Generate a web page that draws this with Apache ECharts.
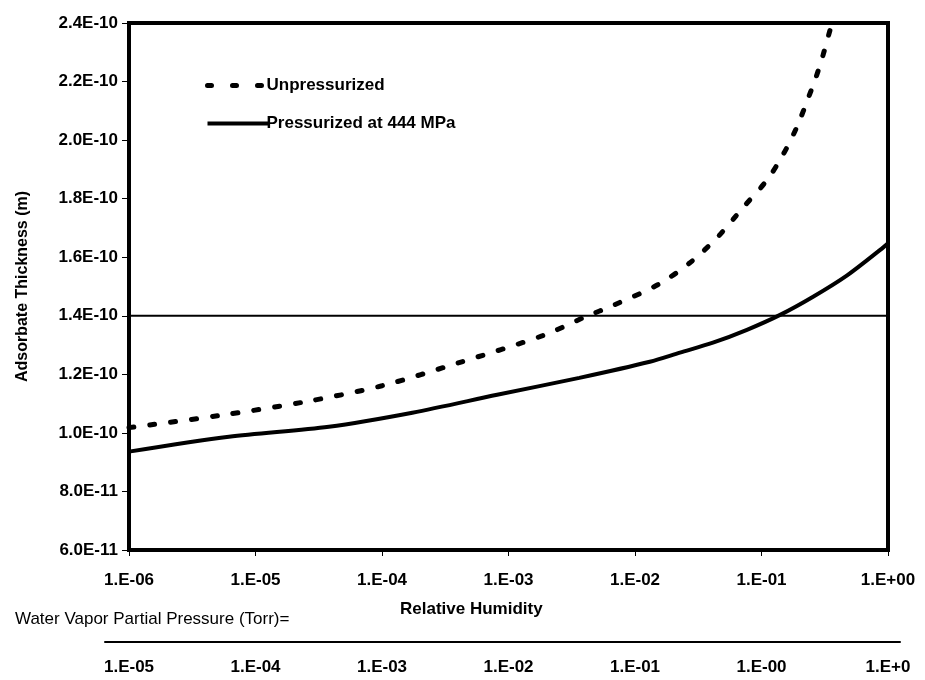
<!DOCTYPE html>
<html>
<head>
<meta charset="utf-8">
<script src="https://cdn.jsdelivr.net/npm/echarts@6/dist/echarts.min.js"></script>
<style>html,body{margin:0;padding:0;background:#fff}#c{width:925px;height:680px}</style>
</head>
<body>
<div id="c"></div>
<script>
// Relative humidity (log10 exponents) and adsorbate thickness (m)
const unpressLogRH = [-6.0, -5.29, -4.61, -4.0, -3.39, -2.73, -2.40, -2.16, -1.82, -1.566, -1.344, -1.147, -0.956, -0.83, -0.72, -0.624, -0.568, -0.513, -0.458, -0.44];
const unpressThick = [1.018e-10, 1.059e-10, 1.106e-10, 1.161e-10, 1.240e-10, 1.332e-10, 1.395e-10, 1.438e-10, 1.506e-10, 1.581e-10, 1.670e-10, 1.769e-10, 1.864e-10, 1.950e-10, 2.045e-10, 2.151e-10, 2.216e-10, 2.291e-10, 2.376e-10, 2.400e-10];
const pressLogRH = [-6.0, -5.21, -4.42, -3.76, -3.09, -2.44, -1.883, -1.645, -1.384, -1.115, -0.853, -0.592, -0.323, -0.062, 0.0];
const pressThick = [0.936e-10, 0.987e-10, 1.021e-10, 1.069e-10, 1.130e-10, 1.188e-10, 1.243e-10, 1.274e-10, 1.308e-10, 1.352e-10, 1.403e-10, 1.465e-10, 1.538e-10, 1.625e-10, 1.648e-10];
const monolayer = 1.4e-10;
const monolayerRange = [-6, 0];
const rhTickLabels = ['1.E-06', '1.E-05', '1.E-04', '1.E-03', '1.E-02', '1.E-01', '1.E+00'];
const torrTickLabels = ['1.E-05', '1.E-04', '1.E-03', '1.E-02', '1.E-01', '1.E-00', '1.E+0'];
const seriesNames = ['Unpressurized', 'Pressurized at 444 MPa'];

const chart = echarts.init(document.getElementById('c'), null, {renderer: 'canvas'});
const toPts = (xs, ys) => xs.map((e, i) => [Math.pow(10, e), ys[i]]);
const font = '"Liberation Sans", Arial, sans-serif';
const dashStyle = {color: '#000', width: 5, type: [5, 16], cap: 'round'};
const solidStyle = {color: '#000', width: 4, type: 'solid'};

chart.setOption({
  backgroundColor: '#fff',
  animation: false,
  textStyle: {fontFamily: font, color: '#000'},
  title: [
    {text: 'Relative Humidity', left: 395, top: 596, textStyle: {fontFamily: font, fontSize: 17, fontWeight: 'bold', color: '#000'}},
    {text: 'Water Vapor Partial Pressure (Torr)=', left: 10, top: 606, textStyle: {fontFamily: font, fontSize: 17, fontWeight: 'normal', color: '#000'}}
  ],
  legend: {
    left: 200, top: 72, orient: 'vertical', itemWidth: 61, itemHeight: 14, itemGap: 21,
    itemStyle: {opacity: 0},
    data: [
      {name: seriesNames[0], lineStyle: {color: '#000', width: 5, type: [4, 21], cap: 'round'}, itemStyle: {opacity: 0}},
      {name: seriesNames[1], lineStyle: solidStyle, itemStyle: {opacity: 0}}
    ],
    textStyle: {fontFamily: font, fontSize: 17, fontWeight: 'bold', color: '#000', padding: [0, 0, 0, -7]}
  },
  grid: [
    {left: 129, right: 37, top: 23, bottom: 130, show: true, borderColor: '#000', borderWidth: 4, containLabel: false},
    {left: 105, right: 25, top: 641, height: 1, show: false, containLabel: false}
  ],
  xAxis: [
    {
      type: 'log', logBase: 10, min: 1e-6, max: 1, gridIndex: 0,
      axisLine: {show: true, lineStyle: {color: '#000', width: 4}},
      axisTick: {show: true, length: 6, lineStyle: {color: '#000', width: 1}},
      minorTick: {show: false}, splitLine: {show: false},
      axisLabel: {
        margin: 22, fontSize: 17, fontWeight: 'bold', color: '#000', fontFamily: font,
        formatter: v => rhTickLabels[Math.round(Math.log10(v)) + 6]
      }
    },
    {
      type: 'log', logBase: 10, min: 1e-5, max: 10, position: 'bottom', offset: 92, gridIndex: 0,
      axisLine: {show: false},
      axisTick: {show: false}, splitLine: {show: false},
      axisLabel: {
        margin: 17, fontSize: 17, fontWeight: 'bold', color: '#000', fontFamily: font,
        formatter: v => torrTickLabels[Math.round(Math.log10(v)) + 5]
      }
    },
    {
      type: 'value', min: 0, max: 1, gridIndex: 1, position: 'bottom',
      axisLine: {show: true, onZero: false, lineStyle: {color: '#000', width: 2}},
      axisTick: {show: false}, axisLabel: {show: false}, splitLine: {show: false}
    }
  ],
  yAxis: [
    {
      type: 'value', min: 6e-11, max: 2.4e-10, interval: 2e-11, gridIndex: 0,
      name: 'Adsorbate Thickness (m)', nameLocation: 'middle', nameGap: 98, nameRotate: 90,
      nameTextStyle: {fontFamily: font, fontSize: 16, fontWeight: 'bold', color: '#000'},
      axisLine: {show: true, lineStyle: {color: '#000', width: 4}},
      axisTick: {show: true, length: 7, lineStyle: {color: '#000', width: 1}},
      splitLine: {show: false},
      axisLabel: {
        margin: 11, fontSize: 17, fontWeight: 'bold', color: '#000', fontFamily: font,
        formatter: v => v.toExponential(1).toUpperCase().replace(/E([+-])(\d)$/, 'E$10$2')
      }
    },
    {
      type: 'value', min: 0, max: 1, gridIndex: 1, show: false
    }
  ],
  series: [
    {
      name: seriesNames[0], type: 'line', smooth: 0.3, showSymbol: false, symbol: 'none',
      data: toPts(unpressLogRH, unpressThick), clip: true,
      lineStyle: dashStyle, itemStyle: {color: '#000'}
    },
    {
      name: seriesNames[1], type: 'line', smooth: 0.3, showSymbol: false, symbol: 'none',
      data: toPts(pressLogRH, pressThick), clip: true,
      lineStyle: solidStyle, itemStyle: {color: '#000'}
    },
    {
      name: 'Monolayer of Water', type: 'line', showSymbol: true, symbol: 'none', silent: true,
      data: monolayerRange.map((e, i) => ({
        value: [Math.pow(10, e), monolayer],
        label: i === 0 ? {show: true, position: 'right', offset: [0, -22], formatter: 'Monolayer of Water', fontFamily: font, fontSize: 17, color: '#000'} : {show: false}
      })),
      lineStyle: {color: '#000', width: 2, type: 'solid'}, itemStyle: {color: '#000'}
    }
  ]
});
</script>
</body>
</html>
